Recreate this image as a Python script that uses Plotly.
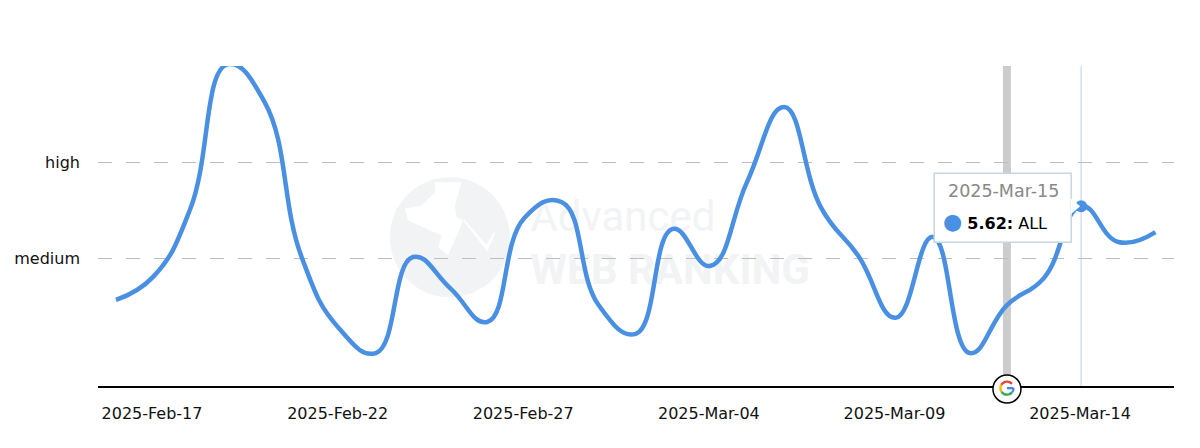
import math
import pandas as pd
from plotly import graph_objs as go

# *** Data, values
dates = pd.date_range("2025-02-17", "2025-03-17").strftime("%Y-%m-%d").tolist()
visibility = [2.69, 3.41, 5.53, 10.05, 8.88, 4.03, 1.81, 1.03, 4.03, 3.06, 2.0, 5.25,
              5.75, 2.53, 1.63, 4.91, 3.75, 6.38, 8.72, 5.56, 4.06, 2.13, 4.66, 1.03,
              2.53, 3.38, 5.62, 4.5, 4.81]
series_name = "ALL"
tick_dates = ["2025-02-17", "2025-02-22", "2025-02-27", "2025-03-04", "2025-03-09", "2025-03-14"]
tick_labels = ["2025-Feb-17", "2025-Feb-22", "2025-Feb-27", "2025-Mar-04", "2025-Mar-09", "2025-Mar-14"]
level_values = [4, 7]
level_labels = ["medium", "high"]
update_date = "2025-03-13"
hover_date = "2025-03-15"
hover_value = 5.62
hover_label = "2025-Mar-15"

BLUE = "#4a90e2"
FONT = "DejaVu Sans"
WATERMARK = "#f2f3f5"

# globe centre in paper fractions
GLOBE_X = 0.327
GLOBE_Y = 0.465


def pixel_path(points):
    return "M" + " L".join(f"{x},{y}" for x, y in points) + " Z"


def globe_path(zoom_points):
    # points were taken from a 3x crop of the watermark
    return pixel_path([((zx - 195) / 3, (185 - zy) / 3) for zx, zy in zoom_points])


def arc_path(r, start, end):
    angles = [math.radians(start + (end - start) * s / 12) for s in range(13)]
    return "M" + " L".join(f"{r * math.cos(a):.2f},{r * math.sin(a):.2f}" for a in angles)


shapes = [
    # update marker and hover line
    dict(type="line", xref="x", yref="paper", x0=update_date, x1=update_date, y0=0, y1=1,
         line=dict(color="#cccccc", width=8), layer="below"),
    dict(type="line", xref="x", yref="paper", x0=hover_date, x1=hover_date, y0=0, y1=1,
         line=dict(color="#d3e0ea", width=1.5), layer="below"),
    # watermark globe
    dict(type="circle", xref="paper", yref="paper", xsizemode="pixel", ysizemode="pixel",
         xanchor=GLOBE_X, yanchor=GLOBE_Y, x0=-60, x1=60, y0=-60, y1=60,
         fillcolor=WATERMARK, line_width=0, layer="below"),
    dict(type="path", xref="paper", yref="paper", xsizemode="pixel", ysizemode="pixel",
         xanchor=GLOBE_X, yanchor=GLOBE_Y,
         path=globe_path([(150, 20), (230, 20), (210, 90), (215, 125), (235, 135), (190, 240),
                          (160, 215), (170, 180), (70, 135), (60, 100), (110, 90), (150, 50)]),
         fillcolor="white", line_width=0, layer="below"),
    dict(type="path", xref="paper", yref="paper", xsizemode="pixel", ysizemode="pixel",
         xanchor=GLOBE_X, yanchor=GLOBE_Y,
         path=globe_path([(235, 135), (308, 228), (332, 172), (326, 172), (305, 208), (240, 135)]),
         fillcolor="white", line_width=0, layer="below"),
    # watermark text
    dict(type="rect", xref="paper", yref="paper", x0=0.399, x1=0.58, y0=0.46, y1=0.62, line_width=0,
         label=dict(text="Advanced", font=dict(family="Roboto", size=42, color=WATERMARK),
                    textposition="middle left", padding=0), layer="below"),
    dict(type="rect", xref="paper", yref="paper", x0=0.399, x1=0.67, y0=0.30, y1=0.45, line_width=0,
         label=dict(text="<b>WEB RANKING</b>", font=dict(family="Roboto", size=42, color=WATERMARK),
                    textposition="middle left", padding=0), layer="below"),
    # tooltip box and its tail
    dict(type="rect", xref="x", yref="y", xsizemode="pixel", ysizemode="pixel",
         xanchor=hover_date, yanchor=hover_value, x0=-147, x1=-10, y0=-36, y1=33,
         fillcolor="white", line=dict(color="#c8d6e0", width=1.5)),
    dict(type="path", xref="x", yref="y", xsizemode="pixel", ysizemode="pixel",
         xanchor=hover_date, yanchor=hover_value,
         path=pixel_path([(-10.5, 8), (-1, 0), (-10.5, -8)]),
         fillcolor="white", line_width=0),
    # google badge
    dict(type="circle", xref="x", yref="paper", xsizemode="pixel", ysizemode="pixel",
         xanchor=update_date, yanchor=0, x0=-14, x1=14, y0=-17, y1=11,
         fillcolor="white", line=dict(color="black", width=1.5)),
]

# the four coloured arcs of the G
for color, start, end in [("#ea4335", 40, 150), ("#fbbc05", 150, 215),
                          ("#34a853", 215, 320), ("#4285f4", 320, 360)]:
    shapes.append(dict(type="path", xref="x", yref="paper", xsizemode="pixel", ysizemode="pixel",
                       xanchor=update_date, yanchor=-0.0067,
                       path=arc_path(6.5, start, end), line=dict(color=color, width=2.4)))
shapes.append(dict(type="line", xref="x", yref="paper", xsizemode="pixel", ysizemode="pixel",
                   xanchor=update_date, yanchor=-0.0067, x0=0, x1=6.5, y0=0, y1=0,
                   line=dict(color="#4285f4", width=2.4)))

annotations = [
    dict(x=hover_date, y=hover_value, xref="x", yref="y", xshift=-135, yshift=15, xanchor="left",
         text=hover_label, showarrow=False, font=dict(family=FONT, size=17.5, color="#888888")),
    dict(x=hover_date, y=hover_value, xref="x", yref="y", xshift=-140, yshift=-15, xanchor="left",
         text=f"<span style='color:{BLUE};font-size:22px'>●</span> <b>{hover_value}:</b> {series_name}",
         showarrow=False, font=dict(family=FONT, size=16, color="black")),
]

fig = go.Figure(
    data=[
        go.Scatter(x=dates, y=visibility, name=series_name, mode="lines",
                   line=dict(color=BLUE, width=4.5, shape="spline", smoothing=1.3)),
        go.Scatter(x=[hover_date], y=[hover_value], mode="markers",
                   marker=dict(color=BLUE, size=12), showlegend=False),
    ],
    layout=go.Layout(
        width=1200,
        height=448,
        margin=dict(l=98, r=26, t=66, b=62),
        paper_bgcolor="white",
        plot_bgcolor="rgba(0,0,0,0)",
        showlegend=False,
        font=dict(family=FONT, size=16, color="#111111"),
        xaxis=go.layout.XAxis(
            type="date",
            range=["2025-02-16 12:22", "2025-03-17 12:00"],
            tickvals=tick_dates,
            ticktext=tick_labels,
            ticklabelshift=36,
            ticklabelstandoff=12,
            showgrid=False,
            showline=True,
            linecolor="black",
            linewidth=1.5,
            ticks="",
            zeroline=False,
        ),
        yaxis=go.layout.YAxis(
            range=[0, 10],
            tickvals=level_values,
            ticktext=level_labels,
            ticklabelstandoff=17,
            showgrid=True,
            gridcolor="#bdbdbd",
            gridwidth=1,
            griddash="14px,14px",
            zeroline=False,
            showline=False,
            ticks="",
        ),
        shapes=shapes,
        annotations=annotations,
    ),
)

# the page's default body margin would shift the chart by 8px
fig.write_html("out.html", config=dict(displayModeBar=False),
               post_script="document.body.style.margin = '0';")
